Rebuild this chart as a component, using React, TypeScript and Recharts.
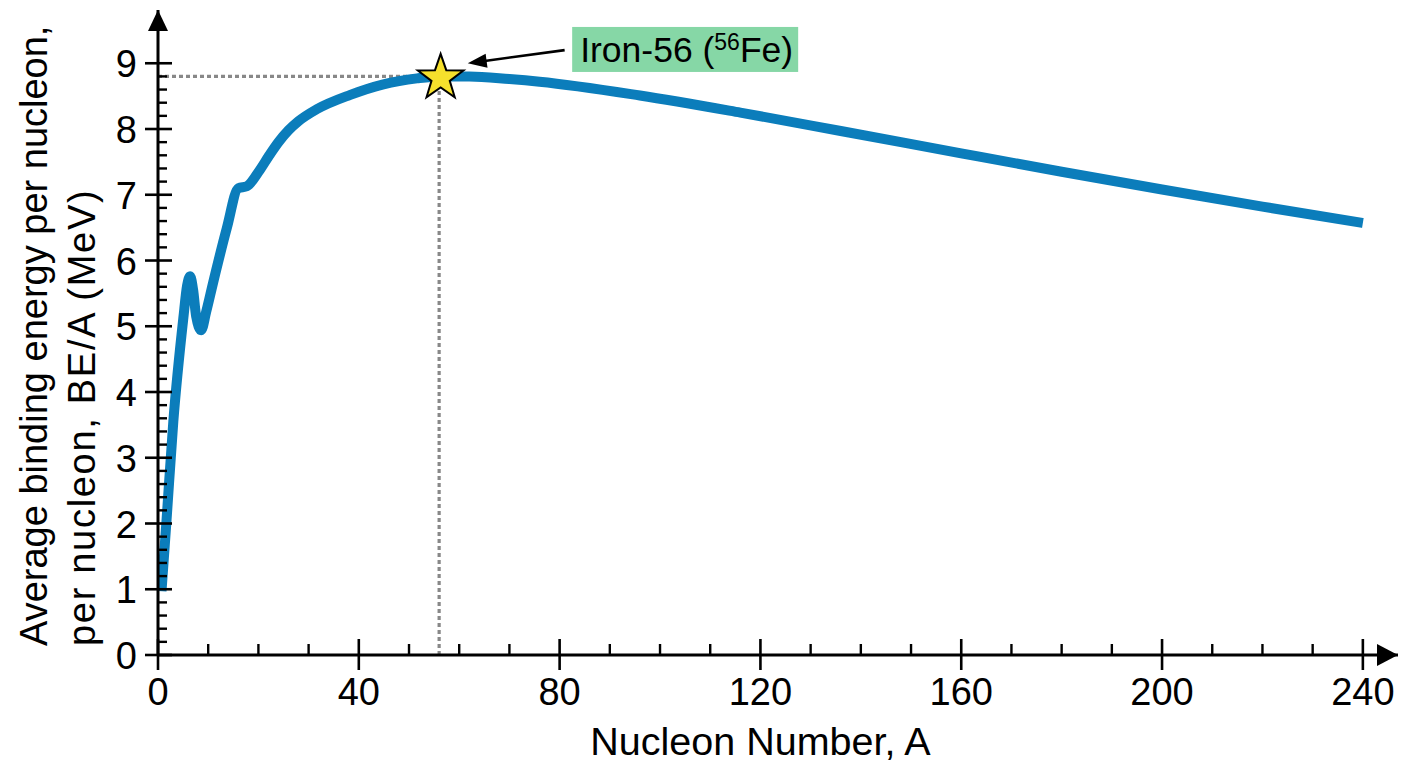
import React from 'react';
import { LineChart, Line, XAxis, YAxis, ReferenceLine, ReferenceDot } from 'recharts';

const FONT = '"Liberation Sans", Arial, Helvetica, sans-serif';

// Nucleon number A (x) and average binding energy per nucleon BE/A in MeV (y)
const nucleonNumber = [0.7, 1.7, 3.05, 5.04, 5.8, 6.4, 7.0, 7.6, 8.6, 9.6, 11, 13.7, 16, 17.7, 20.3, 22, 24, 26, 28, 31.6, 38.3, 44.9, 51.6, 56, 62, 70, 76, 96, 116, 136, 160, 180, 200, 220, 240];
const bindingEnergy = [0.97, 2.05, 3.55, 5.12, 5.62, 5.76, 5.55, 5.15, 4.94, 5.22, 5.67, 6.49, 7.1, 7.13, 7.38, 7.58, 7.8, 7.98, 8.12, 8.3, 8.52, 8.68, 8.77, 8.8, 8.8, 8.76, 8.72, 8.51, 8.25, 7.97, 7.63, 7.35, 7.08, 6.82, 6.57];

const xMajorTicks = [0, 40, 80, 120, 160, 200, 240];
const xAllTicks = [0, 10, 20, 30, 40, 50, 60, 70, 80, 90, 100, 110, 120, 130, 140, 150, 160, 170, 180, 190, 200, 210, 220, 230, 240];
const yMajorTicks = [0, 1, 2, 3, 4, 5, 6, 7, 8, 9];
const yAllTicks = [0, 0.2, 0.4, 0.6, 0.8, 1, 1.2, 1.4, 1.6, 1.8, 2, 2.2, 2.4, 2.6, 2.8, 3, 3.2, 3.4, 3.6, 3.8, 4, 4.2, 4.4, 4.6, 4.8, 5, 5.2, 5.4, 5.6, 5.8, 6, 6.2, 6.4, 6.6, 6.8, 7, 7.2, 7.4, 7.6, 7.8, 8, 8.2, 8.4, 8.6, 8.8, 9];

const xDomain = [0, 247];
const yDomain = [0, 9.81];

const ironA = 56;
const ironBE = 8.8;
const ironLabel = 'Iron-56 (';
const ironSup = '56';
const ironTail = 'Fe)';
const arrowFrom = { a: 81, be: 9.2 };
const arrowTo = { a: 61.7, be: 9.0 };
const labelAt = { a: 82.5, be: 9.21 };

const xTitle = 'Nucleon Number, A';
const yTitle1 = 'Average binding energy per nucleon,';
const yTitle2 = 'per nucleon, BE/A (MeV)';

const data = nucleonNumber.map((a, i) => ({ a, be: bindingEnergy[i] }));

const XTick = (props: any) => {
  const { x, y, payload } = props;
  const v = payload.value;
  const major = xMajorTicks.includes(v);
  return (
    <g>
      {major ? (
        <line x1={x} x2={x} y1={y - 16} y2={y + 15} stroke="#000" strokeWidth={2.6} />
      ) : (
        <line x1={x} x2={x} y1={y - 11} y2={y} stroke="#000" strokeWidth={2.4} />
      )}
      {major && (
        <text x={x} y={y + 50} textAnchor="middle" fontSize={38} fontFamily={FONT} fill="#000">
          {v}
        </text>
      )}
    </g>
  );
};

const YTick = (props: any) => {
  const { x, y, payload } = props;
  const v = payload.value;
  const major = yMajorTicks.includes(v);
  return (
    <g>
      {major ? (
        <line x1={x - 13} x2={x + 14} y1={y} y2={y} stroke="#000" strokeWidth={2.6} />
      ) : (
        <line x1={x} x2={x + 9} y1={y} y2={y} stroke="#000" strokeWidth={2.4} />
      )}
      {major && (
        <text x={x - 21} y={y + 14} textAnchor="end" fontSize={38} fontFamily={FONT} fill="#000">
          {v}
        </text>
      )}
    </g>
  );
};

const starPoints = (cx: number, cy: number, R: number, r: number) => {
  const pts: string[] = [];
  for (let i = 0; i < 10; i++) {
    const rad = i % 2 === 0 ? R : r;
    const ang = -Math.PI / 2 + (i * Math.PI) / 5;
    pts.push(`${cx + rad * Math.cos(ang)},${cy + rad * Math.sin(ang)}`);
  }
  return pts.join(' ');
};

const StarShape = (props: any) => {
  const { cx, cy } = props;
  return <polygon points={starPoints(cx + 1.5, cy + 1.5, 24, 9.6)} fill="#f6e02c" stroke="#000" strokeWidth={2} strokeLinejoin="miter" />;
};

const ArrowShape = (props: any) => {
  const { x1, y1, x2, y2 } = props;
  const dx = x2 - x1;
  const dy = y2 - y1;
  const len = Math.sqrt(dx * dx + dy * dy);
  const ux = dx / len;
  const uy = dy / len;
  const head = 19;
  const half = 7;
  const bx = x2 - ux * head;
  const by = y2 - uy * head;
  const px = -uy;
  const py = ux;
  return (
    <g>
      <line x1={x1} y1={y1} x2={bx + ux * 2} y2={by + uy * 2} stroke="#000" strokeWidth={2.6} />
      <polygon points={`${x2},${y2} ${bx + px * half},${by + py * half} ${bx - px * half},${by - py * half}`} fill="#000" />
    </g>
  );
};

const LabelShape = (props: any) => {
  const { cx, cy } = props;
  return (
    <g>
      <rect x={cx} y={cy - 22.5} width={226} height={45} fill="#86d7a6" />
      <text x={cx + 8} y={cy + 12.5} fontSize={35.5} fontFamily={FONT} fill="#000">
        {ironLabel}
        <tspan fontSize={23} dy={-12}>{ironSup}</tspan>
        <tspan fontSize={35.5} dy={12}>{ironTail}</tspan>
      </text>
    </g>
  );
};

const XArrowHead = (props: any) => {
  const { cx, cy } = props;
  return <polygon points={`${cx},${cy} ${cx - 21},${cy - 11} ${cx - 21},${cy + 11}`} fill="#000" />;
};

const YArrowHead = (props: any) => {
  const { cx, cy } = props;
  return <polygon points={`${cx},${cy} ${cx - 10},${cy + 21} ${cx + 10},${cy + 21}`} fill="#000" />;
};

const XTitle = (props: any) => {
  const vb = props.viewBox || { x: 158, y: 655, width: 1240, height: 113 };
  const cx = vb.x + (vb.width * (240 / 247)) / 2;
  return (
    <text x={cx} y={vb.y + 100} textAnchor="middle" fontSize={39.5} fontFamily={FONT} fill="#000">
      {xTitle}
    </text>
  );
};

const YTitle = (props: any) => {
  const vb = props.viewBox || { x: 0, y: 10, width: 158, height: 645 };
  const y0 = vb.y + vb.height - 9;
  const x1 = vb.x + 47;
  const x2 = vb.x + 95;
  return (
    <g>
      <text x={x1} y={y0} transform={`rotate(-90, ${x1}, ${y0})`} textAnchor="start" fontSize={38} fontFamily={FONT} fill="#000">
        {yTitle1}
      </text>
      <text x={x2} y={y0} transform={`rotate(-90, ${x2}, ${y0})`} textAnchor="start" fontSize={38} letterSpacing={1.7} fontFamily={FONT} fill="#000">
        {yTitle2}
      </text>
    </g>
  );
};

export default function App() {
  return (
    <div style={{ position: 'absolute', left: 0, top: 0, width: 1408, height: 768, background: '#fff' }}>
      <LineChart width={1408} height={768} data={data} margin={{ top: 10, right: 10, bottom: 0, left: 0 }}>
        <XAxis
          dataKey="a"
          type="number"
          domain={xDomain}
          ticks={xAllTicks}
          interval={0}
          tick={<XTick />}
          tickLine={false}
          tickSize={0}
          tickMargin={0}
          axisLine={{ stroke: '#000', strokeWidth: 3 }}
          height={113}
          allowDataOverflow
          label={{ content: (p: any) => <XTitle {...p} /> }}
        />
        <YAxis
          type="number"
          domain={yDomain}
          ticks={yAllTicks}
          interval={0}
          tick={<YTick />}
          tickLine={false}
          tickSize={0}
          tickMargin={0}
          axisLine={{ stroke: '#000', strokeWidth: 3 }}
          width={158}
          allowDataOverflow
          label={{ content: (p: any) => <YTitle {...p} /> }}
        />
        <ReferenceLine
          segment={[{ x: 0, y: ironBE }, { x: ironA, y: ironBE }]}
          stroke="#888888"
          strokeWidth={3.2}
          strokeDasharray="4 3"
          ifOverflow="visible"
        />
        <ReferenceLine
          segment={[{ x: ironA, y: 0 }, { x: ironA, y: ironBE }]}
          stroke="#888888"
          strokeWidth={3.2}
          strokeDasharray="4 3"
          ifOverflow="visible"
        />
        <Line
          type="monotone"
          dataKey="be"
          stroke="#0b7dbb"
          strokeWidth={10}
          dot={false}
          activeDot={false}
          isAnimationActive={false}
        />
        <ReferenceDot x={ironA} y={ironBE} r={24} shape={(p: any) => <StarShape {...p} />} ifOverflow="visible" />
        <ReferenceLine
          segment={[{ x: arrowFrom.a, y: arrowFrom.be }, { x: arrowTo.a, y: arrowTo.be }]}
          shape={(p: any) => <ArrowShape {...p} />}
          ifOverflow="visible"
        />
        <ReferenceDot x={labelAt.a} y={labelAt.be} r={1} shape={(p: any) => <LabelShape {...p} />} ifOverflow="visible" />
        <ReferenceDot x={xDomain[1]} y={0} r={1} shape={(p: any) => <XArrowHead {...p} />} ifOverflow="visible" />
        <ReferenceDot x={0} y={yDomain[1]} r={1} shape={(p: any) => <YArrowHead {...p} />} ifOverflow="visible" />
      </LineChart>
    </div>
  );
}
